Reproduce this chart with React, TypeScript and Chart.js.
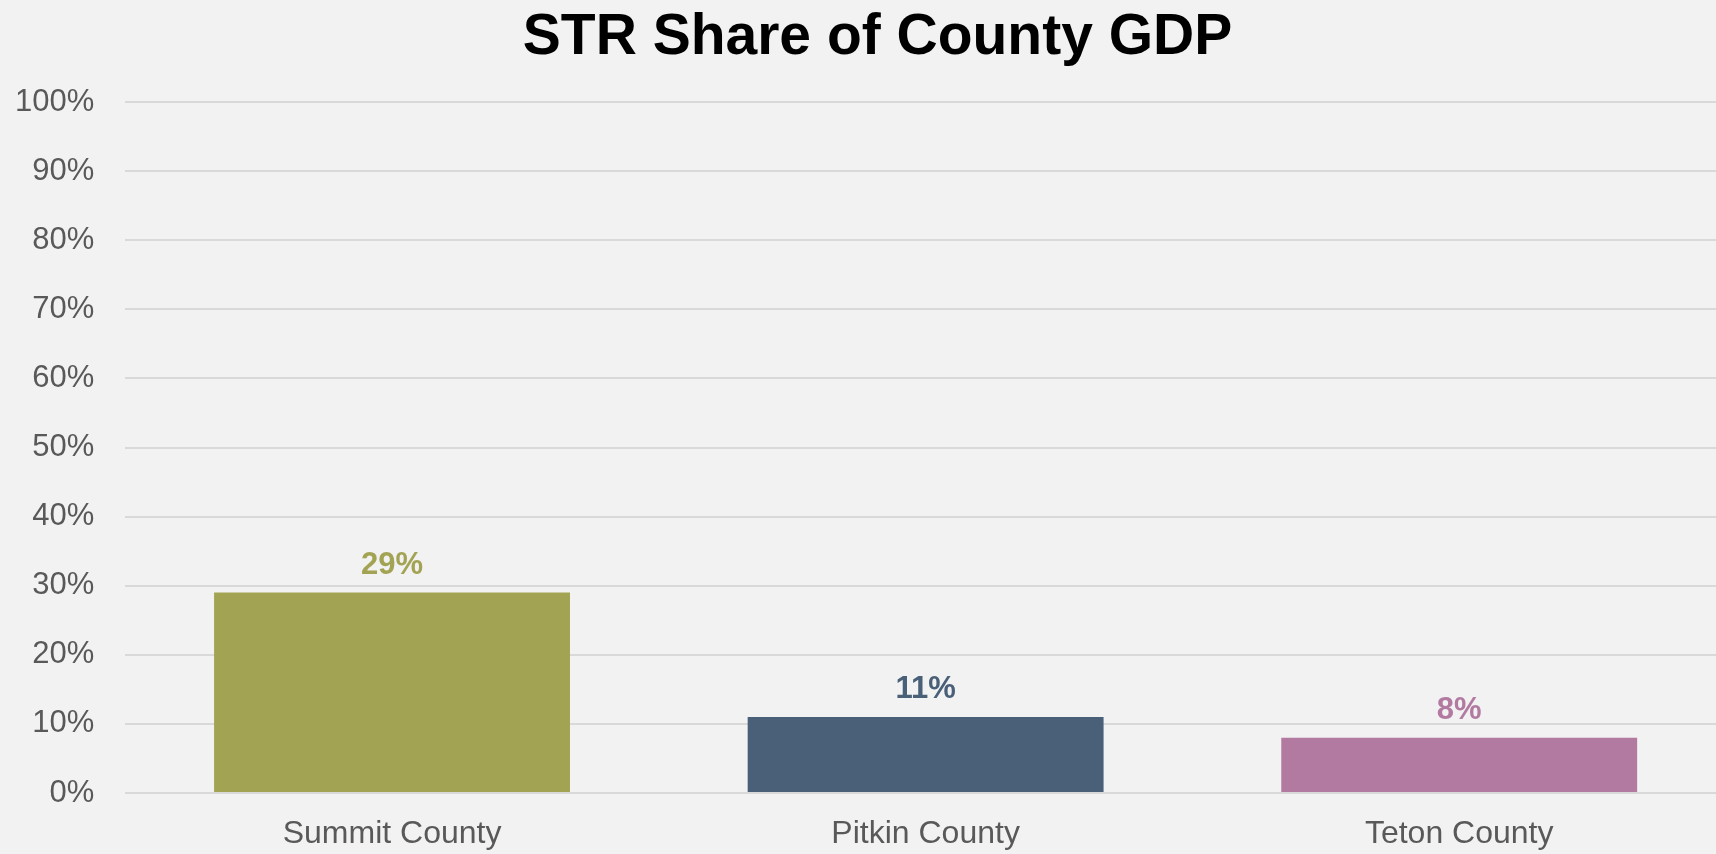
import React, { useEffect, useRef } from "react";
import { Chart, registerables } from "chart.js";

Chart.register(...registerables);

const categories = ["Summit County", "Pitkin County", "Teton County"];
const shareValues = [29, 11, 8];
const barColors = ["#A2A353", "#4A6078", "#B27AA1"];
const yTicks = [0, 10, 20, 30, 40, 50, 60, 70, 80, 90, 100];

const FONT = "'Liberation Sans', Arial, Helvetica, sans-serif";

const valueLabels = {
  id: "valueLabels",
  afterDatasetsDraw(chart: any) {
    const ctx = chart.ctx;
    const meta = chart.getDatasetMeta(0);
    ctx.save();
    ctx.font = `bold 31px ${FONT}`;
    ctx.textAlign = "center";
    ctx.textBaseline = "alphabetic";
    meta.data.forEach((bar: any, i: number) => {
      ctx.fillStyle = barColors[i];
      ctx.fillText(`${shareValues[i]}%`, bar.x, bar.y - 19);
    });
    ctx.restore();
  },
};

export default function App() {
  const ref = useRef<HTMLCanvasElement | null>(null);

  useEffect(() => {
    document.body.style.margin = "0";
    document.body.style.overflow = "hidden";
    document.body.style.background = "#F2F2F2";
    const chart = new Chart(ref.current as HTMLCanvasElement, {
      type: "bar",
      data: {
        labels: categories,
        datasets: [
          {
            data: shareValues,
            backgroundColor: barColors,
            borderWidth: 0,
            categoryPercentage: 1,
            barPercentage: 0.667,
            yAxisID: "y",
          },
        ],
      },
      options: {
        animation: false,
        responsive: false,
        maintainAspectRatio: false,
        layout: { padding: { left: 15, right: 14, top: 0, bottom: 0 } },
        plugins: {
          legend: { display: false },
          tooltip: { enabled: false },
          title: {
            display: true,
            text: "STR Share of County GDP",
            color: "#000000",
            font: { family: FONT, size: 57, weight: "bold", lineHeight: 1.2 },
            padding: { top: 4, bottom: 29.6 },
          },
        },
        scales: {
          x: {
            grid: { display: false, drawTicks: false },
            border: { display: false },
            afterFit(axis: any) {
              axis.height = 61;
            },
            ticks: {
              color: "#595959",
              font: { family: FONT, size: 32 },
              padding: 22,
            },
          },
          y: {
            position: "left",
            min: 0,
            max: 100,
            afterBuildTicks(axis: any) {
              axis.ticks = yTicks.map((v) => ({ value: v }));
            },
            afterFit(axis: any) {
              axis.width = 110.25;
            },
            grid: { color: "#D9D9D9", lineWidth: 2, drawTicks: false },
            border: { display: false },
            ticks: {
              color: "#595959",
              font: { family: FONT, size: 31 },
              padding: 31,
              callback: (v: any) => `${v}%`,
            },
          },
          yRight: {
            type: "linear",
            axis: "y",
            position: "right",
            min: 0,
            max: 100,
            afterFit(axis: any) {
              axis.width = 14;
            },
            grid: { display: false, drawTicks: false },
            border: { display: false },
            ticks: { display: false },
          },
        },
      },
      plugins: [valueLabels],
    });
    return () => chart.destroy();
  }, []);

  return (
    <div style={{ width: 1716, height: 854, overflow: "hidden", background: "#F2F2F2" }}>
      <canvas ref={ref} width={1754} height={854} style={{ display: "block" }} />
    </div>
  );
}
